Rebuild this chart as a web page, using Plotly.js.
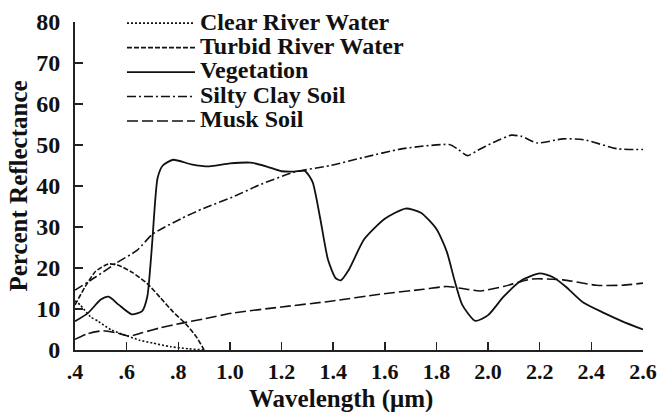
<!DOCTYPE html>
<html>
<head>
<meta charset="utf-8">
<script src="https://cdn.plot.ly/plotly-3.0.1.min.js"></script>
<style>html,body{margin:0;padding:0;background:#fff;}</style>
</head>
<body>
<div id="chart" style="width:662px;height:412px;"></div>
<script>
// ---- data ----
const seriesNames = ["Clear River Water", "Turbid River Water", "Vegetation", "Silty Clay Soil", "Musk Soil"];

const clearX = [0.40, 0.42, 0.46, 0.49, 0.54, 0.60, 0.65, 0.70, 0.77, 0.84, 0.90];
const clearY = [12.0, 11.0, 8.1, 7.0, 4.9, 3.5, 2.4, 1.7, 0.8, 0.3, 0.0];

const turbidX = [0.40, 0.44, 0.48, 0.53, 0.57, 0.62, 0.68, 0.73, 0.78, 0.83, 0.87, 0.90];
const turbidY = [11.0, 15.5, 19.2, 21.0, 20.6, 19.0, 16.2, 12.8, 9.3, 6.3, 3.2, 0.0];

const vegX = [0.40, 0.45, 0.50, 0.53, 0.57, 0.62, 0.66, 0.68, 0.69, 0.70, 0.71, 0.72, 0.74, 0.78, 0.85, 0.92, 1.00, 1.08, 1.14, 1.20, 1.25, 1.29, 1.32, 1.35, 1.38, 1.41, 1.43, 1.46, 1.52, 1.60, 1.68, 1.74, 1.80, 1.84, 1.87, 1.90, 1.95, 2.00, 2.06, 2.13, 2.20, 2.25, 2.30, 2.37, 2.45, 2.52, 2.60];
const vegY = [7.0, 9.0, 12.3, 13.0, 11.0, 8.7, 9.5, 13.0, 19.0, 27.0, 36.0, 42.0, 45.0, 46.4, 45.3, 44.8, 45.5, 45.7, 44.8, 43.6, 43.5, 43.7, 41.0, 32.0, 22.0, 17.5, 17.0, 19.5, 27.0, 32.0, 34.5, 33.5, 29.5, 24.0, 17.0, 11.0, 7.1, 8.5, 13.0, 17.0, 18.7, 17.8, 15.5, 11.5, 9.0, 7.0, 5.0];

const siltyX = [0.40, 0.48, 0.56, 0.64, 0.70, 0.81, 0.90, 1.01, 1.12, 1.25, 1.39, 1.52, 1.66, 1.76, 1.85, 1.88, 1.92, 1.96, 2.02, 2.09, 2.13, 2.19, 2.29, 2.37, 2.50, 2.60];
const siltyY = [14.6, 17.8, 21.2, 24.3, 28.2, 32.0, 34.6, 37.3, 40.4, 43.4, 45.0, 47.0, 49.0, 49.8, 50.1, 49.1, 47.4, 48.7, 50.6, 52.4, 52.1, 50.5, 51.5, 51.3, 49.1, 48.9];

const muskX = [0.40, 0.45, 0.51, 0.56, 0.61, 0.66, 0.73, 0.81, 0.90, 1.01, 1.20, 1.39, 1.58, 1.75, 1.84, 1.90, 1.97, 2.06, 2.17, 2.29, 2.42, 2.52, 2.60];
const muskY = [2.6, 4.0, 4.7, 4.2, 3.4, 4.2, 5.4, 6.5, 7.6, 9.0, 10.5, 11.9, 13.6, 14.8, 15.5, 15.0, 14.4, 15.5, 17.3, 17.1, 15.8, 15.8, 16.3];

const xTickVals = [0.4, 0.6, 0.8, 1.0, 1.2, 1.4, 1.6, 1.8, 2.0, 2.2, 2.4, 2.6];
const xTickText = [".4", ".6", ".8", "1.0", "1.2", "1.4", "1.6", "1.8", "2.0", "2.2", "2.4", "2.6"];
const yTickVals = [0, 10, 20, 30, 40, 50, 60, 70, 80];
const xTitle = "Wavelength (\u03bcm)";
const yTitle = "Percent Reflectance";

// ---- chart ----
const FONT = "Liberation Serif";
const INK = "#111";
const dashes = ["2px,2px", "5px,2px", "solid", "9px,3px,2px,3px", "11px,4px"];
const xs = [clearX, turbidX, vegX, siltyX, muskX];
const ys = [clearY, turbidY, vegY, siltyY, muskY];

const traces = seriesNames.map((name, i) => ({
  type: "scatter",
  mode: "lines",
  x: xs[i],
  y: ys[i],
  name: '<span style="font-size:24px">' + name + '</span>',
  line: {color: INK, width: i === 2 ? 1.8 : 1.6, dash: dashes[i], shape: "spline", smoothing: 0.6},
  hoverinfo: "x+y"
}));

const layout = {
  width: 662,
  height: 412,
  autosize: false,
  margin: {l: 75, r: 19, t: 22, b: 62, pad: 0, autoexpand: false},
  paper_bgcolor: "#fff",
  plot_bgcolor: "#fff",
  font: {family: FONT, color: INK, weight: "bold", size: 18},
  showlegend: true,
  legend: {
    x: 0.0827, xanchor: "left",
    y: 1.049, yanchor: "top",
    bgcolor: "rgba(0,0,0,0)",
    borderwidth: 0,
    itemwidth: 68,
    font: {family: FONT, size: 16.5, color: INK, weight: "bold"},
    traceorder: "normal"
  },
  annotations: [{
    text: xTitle,
    xref: "paper", yref: "paper",
    x: 0.468, y: -0.15,
    xanchor: "center", yanchor: "middle",
    showarrow: false,
    font: {family: FONT, size: 25, color: INK, weight: "bold"}
  }],
  xaxis: {
    range: [0.4, 2.6],
    tickmode: "array",
    tickvals: xTickVals,
    ticktext: xTickText,
    ticks: "inside",
    ticklen: 8,
    tickwidth: 1.5,
    tickcolor: "#222",
    showline: true,
    linecolor: "#222",
    linewidth: 2,
    showgrid: false,
    zeroline: false,
    mirror: false,
    tickfont: {family: FONT, size: 22, color: INK, weight: "bold"},
    ticklabelstandoff: 1
  },
  yaxis: {
    range: [0, 80],
    tickmode: "array",
    tickvals: yTickVals,
    ticks: "inside",
    ticklen: 8,
    tickwidth: 1.5,
    tickcolor: "#222",
    showline: true,
    linecolor: "#222",
    linewidth: 2,
    showgrid: false,
    zeroline: false,
    mirror: false,
    tickfont: {family: FONT, size: 24, color: INK, weight: "bold"},
    ticklabelstandoff: 8,
    title: {
      text: yTitle,
      font: {family: FONT, size: 25, color: INK, weight: "bold"},
      standoff: 1
    }
  }
};

Plotly.newPlot("chart", traces, layout, {displayModeBar: false, staticPlot: true});
</script>
</body>
</html>
